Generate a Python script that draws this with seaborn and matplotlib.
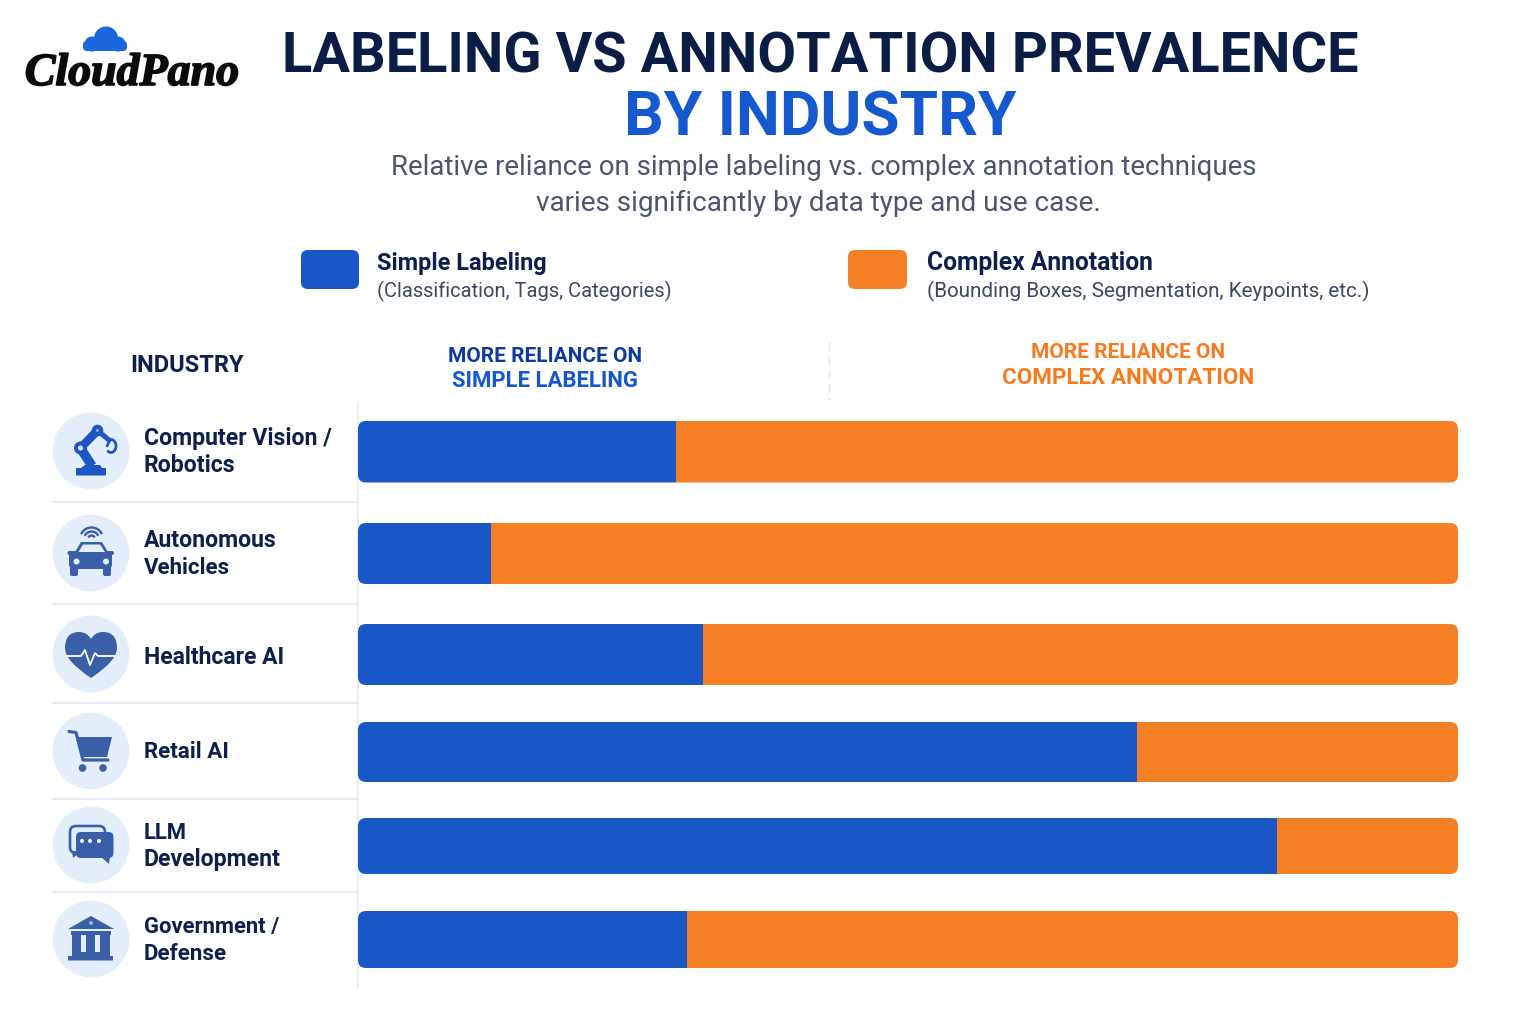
import numpy as np
import pandas as pd
import matplotlib
matplotlib.use("Agg")
import matplotlib.pyplot as plt
import matplotlib.patheffects as pe
from matplotlib.patches import Circle, FancyBboxPatch, Polygon, PathPatch, Arc, Rectangle
from matplotlib.path import Path
import seaborn as sns

# Chart data
industries = ["Computer Vision /\nRobotics", "Autonomous\nVehicles", "Healthcare AI",
              "Retail AI", "LLM\nDevelopment", "Government /\nDefense"]
simple_share = [28.9, 12.1, 31.4, 70.8, 83.5, 29.9]
complex_share = [71.1, 87.9, 68.6, 29.2, 16.5, 70.1]

# Palette
BLUE = "#1957C6"
ORANGE = "#F57F25"
NAVY = "#0D1F4C"
ICON = "#3A5EA8"
ROBOT = "#1C56C4"
DISC = "#E4EDFA"
RULE = "#E7EAF2"
FONT = "Roboto"

# Row layout in canvas pixels
row_centres = [451, 553, 654, 751, 845, 939]
single_line_offset = {"Healthcare AI": 9.5, "Retail AI": 7.5}
bar_tops = [421, 523, 624, 722, 818, 911]
bar_bottoms = [482.5, 584, 685, 782, 874, 968]
bar_left, bar_right = 358, 1458
# Pixel width of each row label line
label_widths = {"Computer Vision /": 187, "Robotics": 91, "Autonomous": 132, "Vehicles": 86,
                "Healthcare AI": 140, "Retail AI": 85, "LLM": 43, "Development": 136,
                "Government /": 135, "Defense": 83}

sns.set_theme(style="white")
plt.rcParams["font.family"] = [FONT, "DejaVu Sans"]

fig = plt.figure(figsize=(15.36, 10.24), dpi=100, facecolor="white")
renderer = fig.canvas.get_renderer()

# Canvas axes in pixel units for text, rules and icons
cv = fig.add_axes([0, 0, 1, 1], zorder=0)
cv.set_xlim(0, 1536)
cv.set_ylim(1024, 0)
cv.axis("off")

# Bar axes: x runs 0-100 % across the bar span, y shares the pixel grid
ax = fig.add_axes([bar_left / 1536, 0, (bar_right - bar_left) / 1536, 1], zorder=1)
ax.patch.set_alpha(0)

df = pd.DataFrame({"industry": industries, "simple": simple_share, "complex": complex_share})
sns.barplot(data=df, x="complex", y="industry", order=industries, color=ORANGE,
            saturation=1, linewidth=0, orient="h", ax=ax)
n_complex = len(ax.patches)
sns.barplot(data=df, x="simple", y="industry", order=industries, color=BLUE,
            saturation=1, linewidth=0, orient="h", ax=ax)
ax.set_xlim(0, 100)
ax.set_ylim(1024, 0)
ax.axis("off")

for i, (top, bottom) in enumerate(zip(bar_tops, bar_bottoms)):
    outline = FancyBboxPatch((bar_left + 8, top + 8), bar_right - bar_left - 16, bottom - top - 16,
                             boxstyle="round,pad=8,rounding_size=8", fc="none", ec="none", lw=0)
    cv.add_patch(outline)
    orange_bar, blue_bar = ax.patches[i], ax.patches[n_complex + i]
    orange_bar.set_x(simple_share[i])
    for bar in (orange_bar, blue_bar):
        bar.set_y(top)
        bar.set_height(bottom - top)
        bar.set_clip_path(outline)


def text(x, y, s, width, color=NAVY, weight="normal", ha="left", **kw):
    """Place a string on its baseline, sized so that it spans `width` pixels."""
    t = cv.text(x, y, s, fontsize=20, color=color, fontweight=weight,
                ha=ha, va="baseline", **kw)
    t.set_fontsize(20 * width / t.get_window_extent(renderer).width)
    return t


def line(pts, w, color=ICON, **kw):
    xs, ys = zip(*pts)
    cv.plot(xs, ys, color=color, lw=w * 0.72, solid_capstyle=kw.pop("cap", "round"),
            solid_joinstyle="round", zorder=kw.pop("zorder", 3), **kw)


def disc(x, y, r, color=ICON, z=3):
    cv.add_patch(Circle((x, y), r, fc=color, ec="none", zorder=z))


def poly(pts, color=ICON, z=3):
    cv.add_patch(Polygon(pts, closed=True, fc=color, ec="none", zorder=z))


def rbox(x0, y0, x1, y1, r, color=ICON, z=3, ec="none", lw=0):
    cv.add_patch(FancyBboxPatch((x0 + r, y0 + r), x1 - x0 - 2 * r, y1 - y0 - 2 * r,
                                boxstyle=f"round,pad={r},rounding_size={r}",
                                fc=color, ec=ec, lw=lw * 0.72, zorder=z))


# Heading block
text(820.5, 72.5, "LABELING VS ANNOTATION PREVALENCE", 1073, "#0B1D45", "bold", ha="center")
text(820.5, 135, "BY INDUSTRY", 392, "#1658CE", "bold", ha="center")
text(824, 175, "Relative reliance on simple labeling vs. complex annotation techniques", 862, "#4B5570", ha="center")
text(818.5, 211, "varies significantly by data type and use case.", 565, "#4B5570", ha="center")

# Legend
rbox(301, 250, 359, 289, 7, BLUE)
text(377, 270, "Simple Labeling", 169, NAVY, "bold")
text(377, 297.5, "(Classification, Tags, Categories)", 295, "#3C4763")
rbox(848, 250, 907, 289, 7, ORANGE)
text(927, 270, "Complex Annotation", 225, NAVY, "bold")
text(927, 297.5, "(Bounding Boxes, Segmentation, Keypoints, etc.)", 442, "#3C4763")

# Column headers
text(187.5, 372, "INDUSTRY", 113, NAVY, "bold", ha="center")
text(545, 361.5, "MORE RELIANCE ON", 194, "#0C3A9E", "bold", ha="center")
text(545, 387, "SIMPLE LABELING", 186, "#1558CE", "bold", ha="center")
text(1128, 358.5, "MORE RELIANCE ON", 194, "#F97A1E", "bold", ha="center")
text(1128, 384, "COMPLEX ANNOTATION", 250, "#F97A1E", "bold", ha="center")
cv.plot([829, 829], [342, 400], color="#DFE2EA", lw=1.0, ls=(0, (6, 4)))

# Table rules
cv.plot([358, 358], [402, 987], color=RULE, lw=1.2, zorder=1)
for y in (502, 604, 703, 799, 892):
    cv.plot([53, 357], [y, y], color=RULE, lw=1.4, zorder=1)

# Row labels and icon discs
for label, cy in zip(industries, row_centres):
    disc(91, cy, 38.5, DISC, z=2)
    parts = label.split("\n")
    if len(parts) == 2:
        text(143.5, cy - 6, parts[0], label_widths[parts[0]], NAVY, "bold")
        text(143.5, cy + 21, parts[1], label_widths[parts[1]], NAVY, "bold")
    else:
        text(143.5, cy + single_line_offset[parts[0]], parts[0], label_widths[parts[0]], NAVY, "bold")

# Robot arm icon
poly([(81, 468), (85, 465), (100, 465), (102, 468)], ROBOT)
rbox(76, 468, 106, 475.5, 1, ROBOT)
line([(80.5, 448), (92, 466)], 9.5, ROBOT, cap="butt")
line([(80.5, 448), (97.5, 430.5)], 8.5, ROBOT)
line([(97.5, 430.5), (109, 440)], 5, ROBOT)
disc(80.5, 448, 6.5, ROBOT)
disc(80.5, 448, 2.6, "#DCE6F7", 4)
disc(97.5, 430.5, 5.8, ROBOT)
disc(97.5, 430.5, 1.4, "#9FB8E8", 4)
cv.add_patch(Arc((111, 446), 10, 13, theta1=-120, theta2=130, ec=ROBOT, lw=2.0, zorder=3))
line([(110, 440), (107, 446)], 2.6, ROBOT)

# Car icon
poly([(75, 552), (81, 542), (102, 542), (108, 552)], ICON)
poly([(78.5, 552), (83, 544.5), (100, 544.5), (105, 552)], DISC, z=4)
rbox(69, 551, 112, 569, 5, ICON)
rbox(70, 566, 78, 576, 2, ICON)
rbox(103, 566, 111, 576, 2, ICON)
disc(76.5, 561.5, 3, DISC, 4)
disc(106, 561.5, 3, DISC, 4)
rbox(67.5, 551, 73, 555, 2, ICON)
rbox(108, 551, 114, 555, 2, ICON)
for w in (7, 15, 23):
    cv.add_patch(Arc((91.5, 539), w, w, theta1=205, theta2=335, ec=ICON, lw=1.7, zorder=3))

# Heart icon with pulse trace
heart = [(Path.MOVETO, (91, 678)),
         (Path.CURVE3, (65, 661)), (Path.CURVE3, (65, 648)),
         (Path.CURVE3, (65, 632)), (Path.CURVE3, (79, 632)),
         (Path.CURVE3, (87, 632)), (Path.CURVE3, (91, 639)),
         (Path.CURVE3, (95, 632)), (Path.CURVE3, (103, 632)),
         (Path.CURVE3, (117, 632)), (Path.CURVE3, (117, 648)),
         (Path.CURVE3, (117, 661)), (Path.CURVE3, (91, 678)),
         (Path.CLOSEPOLY, (91, 678))]
codes, verts = zip(*heart)
cv.add_patch(PathPatch(Path(verts, codes), fc=ICON, ec="none", zorder=3))
line([(67, 656), (81, 656), (85, 650), (90, 665), (95, 653), (98, 656), (115, 656)], 1.8, "white", zorder=4)

# Shopping cart icon
line([(69, 731.5), (76, 732.5), (83, 760), (108, 760)], 3.2, ICON)
poly([(77, 737), (112, 737), (107, 757), (82, 757)], ICON)
disc(82.5, 768, 3.8)
disc(103, 768, 3.8)

# Speech bubbles icon
rbox(70, 826, 105, 853, 6, "none", ec=ICON, lw=2.6)
poly([(72, 851), (81, 851), (73, 858)], ICON)
rbox(76, 832, 113.5, 858, 5, ICON, z=4)
poly([(100, 856), (110, 856), (109, 864)], ICON, z=4)
for x in (82, 90, 99):
    disc(x, 841, 2, "white", 5)

# Government building icon
poly([(91, 916), (114, 929), (68, 929)], ICON)
disc(91, 923, 2, "#9DB3DC", 4)
rbox(71, 931, 111, 935, 0.5, ICON)
for x0, x1 in ((72, 81), (86, 95), (100, 110)):
    cv.add_patch(Rectangle((x0, 933), x1 - x0, 19, fc=ICON, ec="none", zorder=3))
rbox(72, 952, 110, 956, 0.5, ICON)
rbox(68, 956, 113, 960.5, 0.5, ICON)

# Logo
for cx, cy, r in ((92, 44, 7.5), (106, 38.5, 12), (118, 44, 7.5)):
    disc(cx, cy, r, "#1A66DD", 6)
rbox(83, 41, 127, 51, 4, "#1A66DD", z=6)
logo = text(132, 85, "CloudPano", 214, "#0A0A0A", "bold", ha="center",
            family="Liberation Serif", style="italic", zorder=5)
logo.set_path_effects([pe.withStroke(linewidth=1.2, foreground="#0A0A0A")])

fig.savefig("out.png", dpi=100, facecolor="white")
